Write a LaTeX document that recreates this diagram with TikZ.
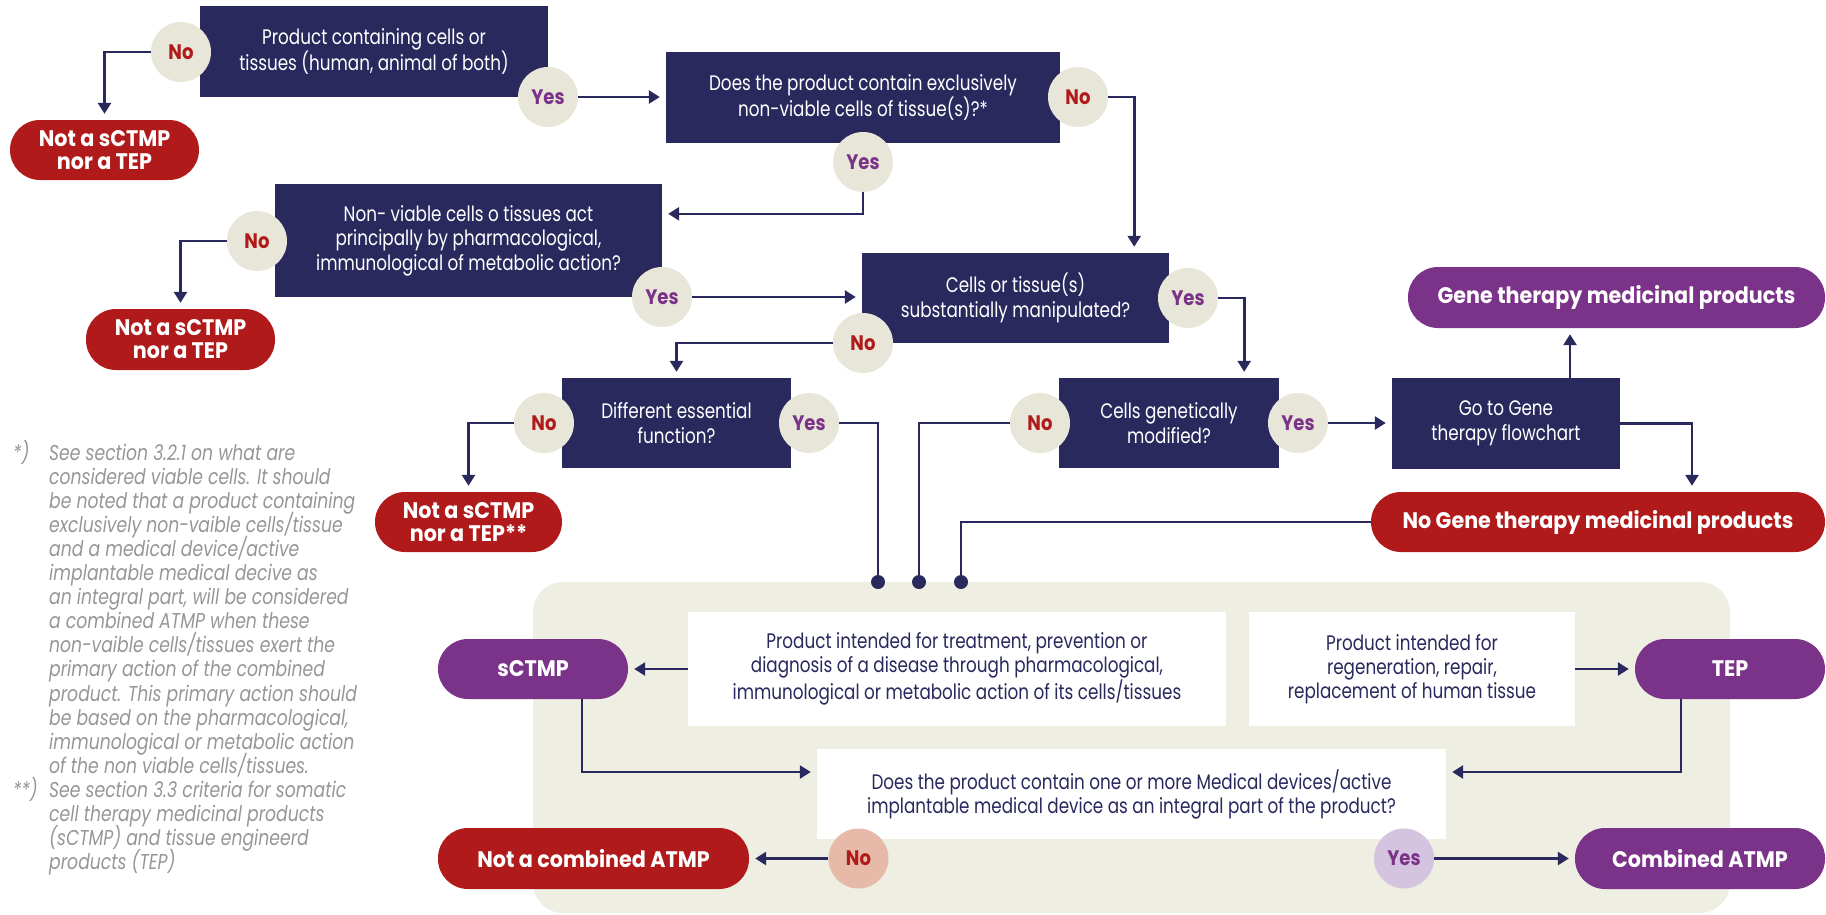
\documentclass[tikz,border=0pt]{standalone}
\usepackage{fontspec}
\setmainfont{Poppins}[FakeStretch=0.8]
\newfontfamily\pillfont{Poppins}[FakeStretch=0.92]
\newfontfamily\ynfont{Poppins}[FakeStretch=0.86]
\usetikzlibrary{arrows.meta,calc}
\definecolor{navy}{RGB}{41,41,94}
\definecolor{redp}{RGB}{177,26,26}
\definecolor{purp}{RGB}{123,51,137}
\definecolor{circ}{RGB}{232,230,216}
\definecolor{panelc}{RGB}{239,238,227}
\definecolor{pinkc}{RGB}{230,185,169}
\definecolor{lilac}{RGB}{213,196,224}
\definecolor{footc}{RGB}{150,150,150}
\begin{document}
\begin{tikzpicture}[x=1pt,y=-1pt,
  qbox/.style={fill=navy, text=white, inner sep=0pt, align=center, font=\fontsize{21}{24.5}\selectfont},
  wbox/.style={fill=white, text=navy, inner sep=0pt, align=center, font=\fontsize{21}{24}\selectfont},
  pill/.style={rounded corners=30pt, inner sep=0pt, text=white, align=center, font=\pillfont\bfseries\fontsize{22.5}{23}\selectfont},
  redpill/.style={pill, fill=redp},
  purppill/.style={pill, fill=purp},
  yn/.style={circle, fill=circ, minimum size=60pt, inner sep=0pt, font=\ynfont\bfseries\fontsize{21}{21}\selectfont},
  nocirc/.style={yn, text=redp},
  yescirc/.style={yn, text=purp},
  arr/.style={draw=navy, line width=2.6pt, -{Triangle[length=11pt,width=13pt]}, shorten >=6pt},
  link/.style={draw=navy, line width=2.6pt},
  dotn/.style={circle, fill=navy, minimum size=14pt, inner sep=0pt},
  foot/.style={text=footc, inner sep=0pt, font=\itshape\fontsize{21.5}{24}\selectfont}
]
\useasboundingbox (0,0) rectangle (1826,914);

% background panel
\node[fill=panelc, rounded corners=30pt, minimum width=1197pt, minimum height=331pt, inner sep=0pt] (panel) at (1131.5,747.5) {};

% question boxes
\node[qbox, minimum width=348pt, minimum height=91pt] (b1) at (374,51.5) {Product containing cells or\\tissues (human, animal of both)};
\node[qbox, minimum width=394pt, minimum height=91pt] (b2) at (863,97.5) {Does the product contain exclusively\\non-viable cells of tissue(s)?*};
\node[qbox, minimum width=387pt, minimum height=113pt] (b4) at (468.5,240.5) {Non- viable cells o tissues act\\principally by pharmacological,\\immunological of metabolic action?};
\node[qbox, minimum width=307pt, minimum height=90pt] (b3) at (1015.5,298) {Cells or tissue(s)\\substantially manipulated?};
\node[qbox, minimum width=229pt, minimum height=90pt] (b6) at (676.5,423) {Different essential\\function?};
\node[qbox, minimum width=220pt, minimum height=90pt] (b5) at (1169,423) {Cells genetically\\modified?};
\node[qbox, minimum width=228pt, minimum height=91pt] (b7) at (1506,423.5) {Go to Gene\\therapy flowchart};

% outcome pills
\node[redpill, minimum width=189pt, minimum height=60pt] (p1) at (104.5,150) {Not a sCTMP\\nor a TEP};
\node[redpill, minimum width=189pt, minimum height=61pt] (p2) at (180.5,339.5) {Not a sCTMP\\nor a TEP};
\node[redpill, minimum width=187pt, minimum height=60pt] (p3) at (468.5,522) {Not a sCTMP\\nor a TEP**};
\node[purppill, minimum width=417pt, minimum height=61pt] (gene) at (1616.5,297.5) {Gene therapy medicinal products};
\node[redpill, minimum width=454pt, minimum height=60pt] (nogene) at (1598,522) {No Gene therapy medicinal products};

% panel content
\node[wbox, minimum width=538pt, minimum height=114pt] (bA) at (957,669) {Product intended for treatment, prevention or\\diagnosis of a disease through pharmacological,\\immunological or metabolic action of its cells/tissues};
\node[wbox, minimum width=326pt, minimum height=114pt] (bB) at (1412,669) {Product intended for\\regeneration, repair,\\replacement of human tissue};
\node[wbox, minimum width=629pt, minimum height=90pt] (bC) at (1131.5,794) {Does the product contain one or more Medical devices/active\\implantable medical device as an integral part of the product?};
\node[purppill, minimum width=190pt, minimum height=60pt] (sctmp) at (533,669) {sCTMP};
\node[purppill, minimum width=190pt, minimum height=60pt] (tep) at (1730,669) {TEP};
\node[redpill, minimum width=311pt, minimum height=61pt] (notcomb) at (593.5,858.5) {Not a combined ATMP};
\node[purppill, minimum width=250pt, minimum height=61pt] (comb) at (1700,858.5) {Combined ATMP};

% dots
\node[dotn] (d1) at (878,582) {};
\node[dotn] (d2) at (919,582) {};
\node[dotn] (d3) at (961,582) {};

% yes / no circles
\node[nocirc] (no1) at (181,52) {No};
\node[yescirc] (yes1) at (548,97) {Yes};
\node[nocirc] (no2) at (1078,97) {No};
\node[yescirc] (yes2) at (863,162) {Yes};
\node[nocirc] (no4) at (257,241) {No};
\node[yescirc] (yes4) at (662,297) {Yes};
\node[yescirc] (yes3) at (1188,298) {Yes};
\node[nocirc] (no3) at (863,343) {No};
\node[nocirc] (no6) at (544,423) {No};
\node[yescirc] (yes6) at (809,423) {Yes};
\node[nocirc] (no5) at (1040,423) {No};
\node[yescirc] (yes5) at (1298,423) {Yes};
\node[nocirc, fill=pinkc] (no7) at (858.5,858.5) {No};
\node[yescirc, fill=lilac] (yes7) at (1404,858.5) {Yes};

% connectors
\draw[arr] (no1.west) -| (p1.north);
\draw[arr] (yes1.east) -- (yes1.east -| b2.west);
\draw[arr] (no2.east) -| ([xshift=-35pt]b3.north east);
\draw[arr] (yes2.south) |- ([yshift=-30pt]b4.north east);
\draw[arr] (no4.west) -| (p2.north);
\draw[arr] (yes4.east) -- (yes4.east -| b3.west);
\draw[arr] (yes3.east) -| ([xshift=-35pt]b5.north east);
\draw[arr] (no3.west) -| (b6.north);
\draw[arr] (no6.west) -| (p3.north);
\draw[link] (yes6.east) -| (d1.center);
\draw[link] (no5.west) -| (d2.center);
\draw[link] (nogene.west) -| (d3.center);
\draw[arr] (yes5.east) -- (yes5.east -| b7.west);
\draw[arr] ([xshift=64pt]b7.north) -- ([xshift=64pt]b7.north |- gene.south);
\draw[arr] (b7.east) -| ([xshift=94pt]nogene.north);
\draw[arr] (bA.west) -- (bA.west -| sctmp.east);
\draw[arr] (bB.east) -- (bB.east -| tep.west);
\draw[arr] ([xshift=49pt]sctmp.south) |- ([yshift=22pt]bC.west);
\draw[arr] ([xshift=-49pt]tep.south) |- ([yshift=22pt]bC.east);
\draw[arr] (no7.west) -- (no7.west -| notcomb.east);
\draw[arr] (yes7.east) -- (yes7.east -| comb.west);

% footnotes
\node[foot, anchor=base west] (m1) at (13,460) {*)};
\node[foot, anchor=base west] (m2) at (13,797.4) {**)};
\foreach \t [count=\i from 0] in {{See section 3.2.1 on what are},{considered viable cells. It should},{be noted that a product containing},{exclusively non-vaible cells/tissue},{and a medical device/active},{implantable medical decive as},{an integral part, will be considered},{a combined ATMP when these},{non-vaible cells/tissues exert the},{primary action of the combined},{product. This primary action should},{be based on the pharmacological,},{immunological or metabolic action},{of the non viable cells/tissues.},{See section 3.3 criteria for somatic},{cell therapy medicinal products},{(sCTMP) and tissue engineerd},{products (TEP)}}
  \node[foot, anchor=base west] (f\i) at (49,460+24.1*\i) {\t};
\end{tikzpicture}
\end{document}
